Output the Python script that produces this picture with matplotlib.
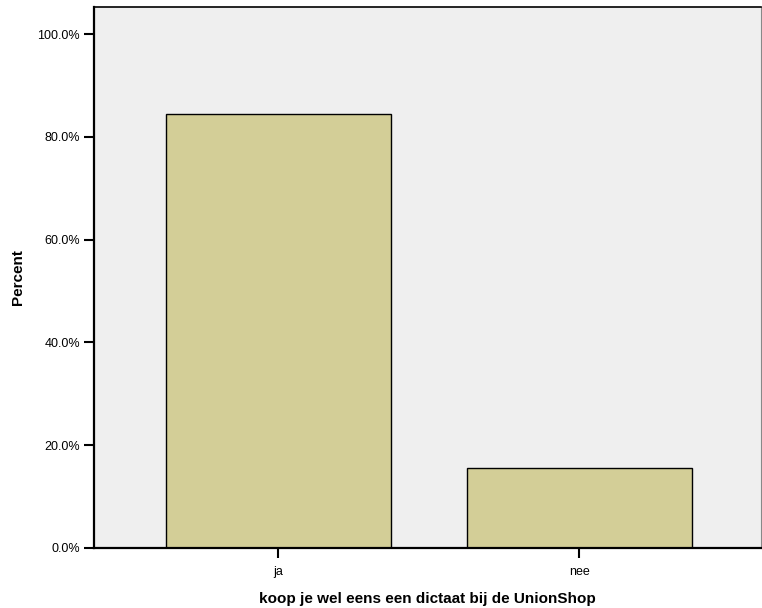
import matplotlib
matplotlib.use("Agg")
import matplotlib.pyplot as plt
from matplotlib.ticker import FuncFormatter

categories = ["ja", "nee"]
percent = [84.5, 15.5]

plt.rcParams['font.family'] = ['Liberation Sans', 'DejaVu Sans']

fig = plt.figure(figsize=(7.62, 6.08), dpi=100)
ax = fig.add_axes([94/762, 60/608, 667/762, 541/608])
ax.set_facecolor("#efefef")

x = range(len(categories))
ax.bar(x, percent, width=0.748, color="#d3ce97", edgecolor="black", linewidth=1)

ax.set_xlim(-0.613, 1.605)
ax.set_ylim(0, 105.3)
ax.set_yticks([0, 20, 40, 60, 80, 100])
ax.yaxis.set_major_formatter(FuncFormatter(lambda v, p: f"{v:.1f}%"))
ax.set_xticks(list(x))
ax.set_xticklabels(categories)
ax.tick_params(axis="both", direction="out", length=7, width=1.5, labelsize=9, colors="black")
ax.tick_params(axis="x", pad=6)
ax.tick_params(axis="y", pad=3)

for side in ["left", "bottom"]:
    ax.spines[side].set_linewidth(1.6)
ax.spines["top"].set_linewidth(1.2)
ax.spines["right"].set_color("#888888")

ax.set_ylabel("Percent", fontsize=11, fontweight="bold", labelpad=9)
ax.set_xlabel("koop je wel eens een dictaat bij de UnionShop", fontsize=11, fontweight="bold", labelpad=10)

fig.savefig("out.png", dpi=100)
